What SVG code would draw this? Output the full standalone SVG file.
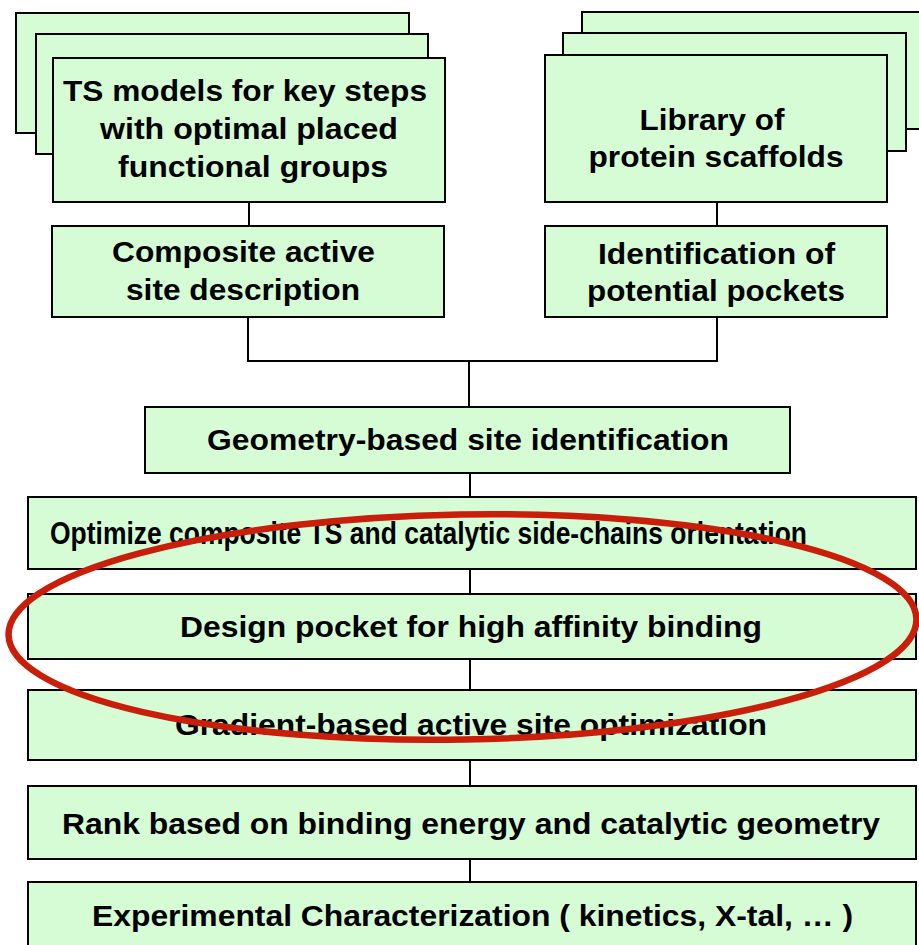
<svg xmlns="http://www.w3.org/2000/svg" width="919" height="945" viewBox="0 0 919 945">
<style>
.box{fill:#d5fcd5;stroke:#000;stroke-width:2}
.t{font-family:"Liberation Sans",Arial,sans-serif;font-weight:bold;font-size:29px;fill:#000;text-anchor:middle}
.c{stroke:#000;stroke-width:2;fill:none}
</style>
<rect width="919" height="945" fill="#fff"/>
<g id="connectors">
<path class="c" d="M249 202V226M248 317V361H717V317M717 202V226M469 361V407M470 473V497M470 569V594M470 659V690M470 760V786M470 859V882"/>
</g>
<g id="ts-models">
<rect class="box" x="16" y="13" width="393" height="120"/>
<rect class="box" x="36" y="34" width="392" height="120"/>
<rect class="box" x="53" y="58" width="392" height="144"/>
<text class="t"><tspan x="245" y="101" textLength="364" lengthAdjust="spacingAndGlyphs">TS models for key steps</tspan><tspan x="249" y="139" textLength="298" lengthAdjust="spacingAndGlyphs">with optimal placed</tspan><tspan x="253" y="177" textLength="270" lengthAdjust="spacingAndGlyphs">functional groups</tspan></text>
</g>
<g id="library">
<rect class="box" x="582" y="12" width="345" height="117"/>
<rect class="box" x="563" y="33" width="343" height="118"/>
<rect class="box" x="545" y="55" width="342" height="147"/>
<text class="t"><tspan x="712" y="130" textLength="145" lengthAdjust="spacingAndGlyphs">Library of</tspan><tspan x="716" y="167" textLength="255" lengthAdjust="spacingAndGlyphs">protein scaffolds</tspan></text>
</g>
<g id="composite">
<rect class="box" x="52" y="226" width="392" height="91"/>
<text class="t"><tspan x="243.5" y="262" textLength="263" lengthAdjust="spacingAndGlyphs">Composite active</tspan><tspan x="243" y="300" textLength="234" lengthAdjust="spacingAndGlyphs">site description</tspan></text>
</g>
<g id="identification">
<rect class="box" x="545" y="226" width="342" height="91"/>
<text class="t"><tspan x="716.5" y="264" textLength="237" lengthAdjust="spacingAndGlyphs">Identification of</tspan><tspan x="716" y="301" textLength="258" lengthAdjust="spacingAndGlyphs">potential pockets</tspan></text>
</g>
<g id="geometry">
<rect class="box" x="145" y="407" width="645" height="66"/>
<text class="t" x="468" y="450" textLength="522" lengthAdjust="spacingAndGlyphs">Geometry-based site identification</text>
</g>
<g id="optimize">
<rect class="box" x="28" y="497" width="888" height="72"/>
<text class="t" x="428.5" y="544" textLength="757" lengthAdjust="spacingAndGlyphs" style="font-size:31px">Optimize composite TS and catalytic side-chains orientation</text>
</g>
<g id="design">
<rect class="box" x="28" y="594" width="888" height="65"/>
<text class="t" x="471" y="637" textLength="582" lengthAdjust="spacingAndGlyphs">Design pocket for high affinity binding</text>
</g>
<g id="gradient">
<rect class="box" x="28" y="690" width="888" height="70"/>
<text class="t" x="471" y="735" textLength="592" lengthAdjust="spacingAndGlyphs">Gradient-based active site optimization</text>
</g>
<g id="rank">
<rect class="box" x="28" y="786" width="888" height="73"/>
<text class="t" x="471" y="834" textLength="818" lengthAdjust="spacingAndGlyphs">Rank based on binding energy and catalytic geometry</text>
</g>
<g id="experimental">
<rect class="box" x="28" y="882" width="888" height="72"/>
<text class="t" x="472.5" y="926" textLength="761" lengthAdjust="spacingAndGlyphs">Experimental Characterization ( kinetics, X-tal, … )</text>
</g>
<ellipse cx="462.5" cy="627" rx="454" ry="112.5" fill="none" stroke="#c81e0a" stroke-width="6.5" transform="rotate(-1 462.5 627)"/>
</svg>
